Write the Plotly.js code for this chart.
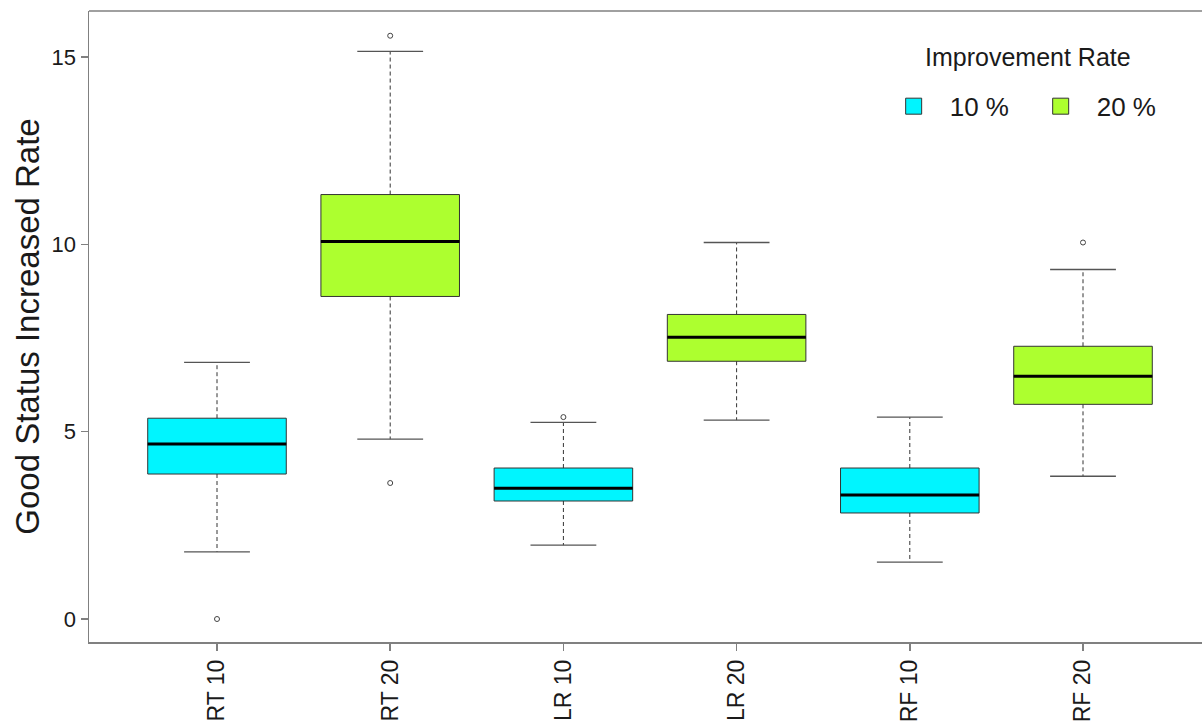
<!DOCTYPE html>
<html>
<head>
<meta charset="utf-8">
<script src="https://cdn.plot.ly/plotly-3.0.1.min.js"></script>
<style>html,body{margin:0;padding:0;background:#fff;}#chart{width:1202px;height:724px;}</style>
</head>
<body>
<div id="chart"></div>
<script>
// ---- data ----
var categories = ["RT 10", "RT 20", "LR 10", "LR 20", "RF 10", "RF 20"];
var groups     = ["10 %", "20 %", "10 %", "20 %", "10 %", "20 %"];
var lowerWhisker = [1.79, 4.80, 1.97, 5.31, 1.52, 3.81];
var q1Values     = [3.87, 8.61, 3.15, 6.88, 2.83, 5.73];
var medianValues = [4.67, 10.08, 3.49, 7.52, 3.31, 6.48];
var q3Values     = [5.36, 11.33, 4.03, 8.13, 4.03, 7.28];
var upperWhisker = [6.85, 15.15, 5.25, 10.05, 5.39, 9.33];
var outlierCategory = ["RT 10", "RT 20", "RT 20", "LR 10", "RF 20"];
var outlierValues   = [0.0, 15.57, 3.63, 5.39, 10.05];
var legendTitle = "Improvement Rate";
var groupNames = ["10 %", "20 %"];
var groupColors = {"10 %": "#00F5FF", "20 %": "#ADFF2F"};

// ---- build traces ----
var pos = categories.map(function(c, i){ return i; });
var traces = [];
groupNames.forEach(function(g){
  var idx = pos.filter(function(i){ return groups[i] === g; });
  traces.push({
    type: "box", name: g, legendgroup: g,
    x: idx.map(function(i){ return pos[i]; }),
    q1: idx.map(function(i){ return q1Values[i]; }),
    median: idx.map(function(i){ return medianValues[i]; }),
    q3: idx.map(function(i){ return q3Values[i]; }),
    lowerfence: idx.map(function(i){ return q1Values[i]; }),
    upperfence: idx.map(function(i){ return q3Values[i]; }),
    width: 0.8, whiskerwidth: 0,
    fillcolor: groupColors[g],
    line: {color: "#333333", width: 1},
    boxpoints: false, hoverinfo: "skip", showlegend: false
  });
});

var halfBox = 0.4, halfCap = 0.19;
// whiskers (dashed)
var wx = [], wy = [];
pos.forEach(function(i){
  wx.push(pos[i], pos[i], null, pos[i], pos[i], null);
  wy.push(q3Values[i], upperWhisker[i], null, q1Values[i], lowerWhisker[i], null);
});
traces.push({type: "scatter", mode: "lines", x: wx, y: wy, showlegend: false, hoverinfo: "skip",
  line: {color: "#333333", width: 1, dash: "4px,3px"}});
// caps
var cx = [], cy = [];
pos.forEach(function(i){
  cx.push(pos[i]-halfCap, pos[i]+halfCap, null, pos[i]-halfCap, pos[i]+halfCap, null);
  cy.push(upperWhisker[i], upperWhisker[i], null, lowerWhisker[i], lowerWhisker[i], null);
});
traces.push({type: "scatter", mode: "lines", x: cx, y: cy, showlegend: false, hoverinfo: "skip",
  line: {color: "#555555", width: 1.3}});
// medians (thick)
var mx = [], my = [];
pos.forEach(function(i){
  mx.push(pos[i]-halfBox, pos[i]+halfBox, null);
  my.push(medianValues[i], medianValues[i], null);
});
traces.push({type: "scatter", mode: "lines", x: mx, y: my, showlegend: false, hoverinfo: "skip",
  line: {color: "#000000", width: 3}});
// outliers
traces.push({type: "scatter", mode: "markers",
  x: outlierCategory.map(function(c){ return categories.indexOf(c); }),
  y: outlierValues, showlegend: false, hoverinfo: "skip",
  marker: {symbol: "circle-open", size: 5, color: "#444444", line: {width: 1}}});
// legend entries (filled squares)
groupNames.forEach(function(g){
  traces.push({type: "scatter", mode: "markers", name: g, legendgroup: g,
    x: [null], y: [null], hoverinfo: "skip", showlegend: true,
    marker: {symbol: "square", size: 20, color: groupColors[g], line: {color: "#333333", width: 1}}});
});

var font = "Liberation Sans, Arial, sans-serif";
var layout = {
  width: 1202, height: 724,
  margin: {l: 89, r: 0, t: 11, b: 82, autoexpand: false},
  paper_bgcolor: "#ffffff", plot_bgcolor: "#ffffff",
  font: {family: font, color: "#1a1a1a", size: 20},
  showlegend: true,
  xaxis: {
    range: [-0.739, 5.687], tickvals: pos, ticktext: categories,
    tickangle: -90, ticks: "outside", ticklen: 7, tickcolor: "#808080", tickwidth: 1.5,
    showline: true, linecolor: "#808080", linewidth: 1.5, mirror: false,
    showgrid: false, zeroline: false, tickfont: {size: 23, family: font, color: "#1a1a1a"}
  },
  yaxis: {
    range: [-0.614, 16.23], tickvals: [0, 5, 10, 15],
    ticks: "outside", ticklen: 7, tickcolor: "#808080", tickwidth: 1.5,
    showline: true, linecolor: "#808080", linewidth: 1.5,
    showgrid: false, zeroline: false, tickfont: {size: 22, family: font, color: "#1a1a1a"},
    title: {text: "Good Status Increased Rate", font: {size: 33, family: font, color: "#1a1a1a"}, standoff: 2}
  },
  shapes: [{type: "line", xref: "paper", yref: "paper", x0: 0, x1: 1, y0: 1, y1: 1,
    line: {color: "#808080", width: 1.5}}],
  annotations: [{text: legendTitle, xref: "paper", yref: "paper", x: 0.8437, y: 0.927,
    xanchor: "center", yanchor: "middle", showarrow: false,
    font: {size: 25, family: font, color: "#1a1a1a"}}],
  legend: {
    orientation: "h", x: 0.7086, xanchor: "left", y: 0.849, yanchor: "middle",
    bgcolor: "rgba(0,0,0,0)", font: {size: 26, family: font, color: "#1a1a1a"},
    itemsizing: "trace", itemwidth: 62, entrywidth: 70, tracegroupgap: 0
  }
};

Plotly.newPlot("chart", traces, layout, {displayModeBar: false, staticPlot: true});
</script>
</body>
</html>
